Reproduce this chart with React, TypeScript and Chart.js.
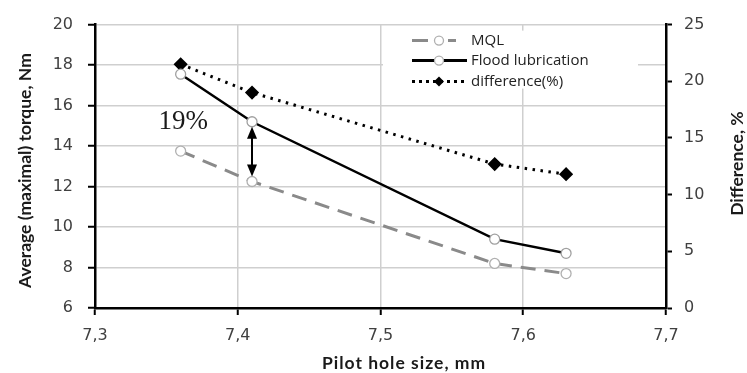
import React, { useEffect, useRef } from 'react';
import { Chart, registerables } from 'chart.js';

Chart.register(...registerables);

// ---- data ----
const pilotHoleSizes = [7.36, 7.41, 7.58, 7.63];
const mqlTorque = [13.75, 12.25, 8.2, 7.7];
const floodTorque = [17.55, 15.2, 9.4, 8.7];
const differencePct = [21.5, 19.0, 12.7, 11.8];
const seriesNames = ['MQL', 'Flood lubrication', 'difference(%)'];
const xTitle = 'Pilot hole size, mm';
const yTitle = 'Average (maximal) torque, Nm';
const y2Title = 'Difference, %';
const annotationText = '19%';
const annotationIndex = 1;

const TICK_FONT = { family: '"DejaVu Sans", Verdana, sans-serif', size: 16 };
const TICK_COLOR = '#404040';
const GRID_COLOR = '#cfcfcf';
const TITLE_FONT = 'bold 17.5px Lato, "Open Sans", sans-serif';

const toPts = (ys: number[]) => pilotHoleSizes.map((x, i) => ({ x, y: ys[i] }));

const overlayPlugin = {
  id: 'overlay',
  afterDatasetsDraw(chart: any) {
    const { ctx, chartArea, scales } = chart;
    const xs = scales.x;
    const ys = scales.y;
    ctx.save();

    // double arrow between the two series
    const px = xs.getPixelForValue(pilotHoleSizes[annotationIndex]);
    const yTop = ys.getPixelForValue(floodTorque[annotationIndex]) + 5;
    const yBot = ys.getPixelForValue(mqlTorque[annotationIndex]) - 5;
    const ah = 12;
    const aw = 5;
    ctx.strokeStyle = '#000';
    ctx.fillStyle = '#000';
    ctx.lineWidth = 2;
    ctx.beginPath();
    ctx.moveTo(px, yTop + ah - 1);
    ctx.lineTo(px, yBot - ah + 1);
    ctx.stroke();
    ctx.beginPath();
    ctx.moveTo(px, yTop);
    ctx.lineTo(px - aw, yTop + ah);
    ctx.lineTo(px + aw, yTop + ah);
    ctx.closePath();
    ctx.fill();
    ctx.beginPath();
    ctx.moveTo(px, yBot);
    ctx.lineTo(px - aw, yBot - ah);
    ctx.lineTo(px + aw, yBot - ah);
    ctx.closePath();
    ctx.fill();

    // annotation text
    ctx.font = '27px "Liberation Serif", "Times New Roman", serif';
    ctx.fillStyle = '#1a1a1a';
    ctx.textAlign = 'right';
    ctx.textBaseline = 'middle';
    ctx.fillText(annotationText, px - 44, ys.getPixelForValue(floodTorque[annotationIndex]));

    // legend
    const lx = chartArea.left + 288;
    const ly = chartArea.top + 6;
    ctx.fillStyle = '#fff';
    ctx.fillRect(lx, ly, 255, 58);
    const sx0 = lx + 29;
    const sx1 = lx + 84;
    const mx = lx + 56;
    const rows = [ly + 10, ly + 30, ly + 51];
    // MQL sample
    ctx.strokeStyle = '#8a8a8a';
    ctx.lineWidth = 3;
    ctx.beginPath();
    ctx.moveTo(sx0, rows[0]);
    ctx.lineTo(sx0 + 16, rows[0]);
    ctx.moveTo(mx + 9, rows[0]);
    ctx.lineTo(mx + 17, rows[0]);
    ctx.stroke();
    ctx.lineWidth = 1.3;
    ctx.strokeStyle = '#b0b0b0';
    ctx.fillStyle = '#fff';
    ctx.beginPath();
    ctx.arc(mx, rows[0], 4.5, 0, Math.PI * 2);
    ctx.fill();
    ctx.stroke();
    // Flood sample
    ctx.strokeStyle = '#000';
    ctx.lineWidth = 3;
    ctx.beginPath();
    ctx.moveTo(sx0, rows[1]);
    ctx.lineTo(sx1, rows[1]);
    ctx.stroke();
    ctx.lineWidth = 1.3;
    ctx.strokeStyle = '#b0b0b0';
    ctx.beginPath();
    ctx.arc(mx, rows[1], 4.5, 0, Math.PI * 2);
    ctx.fill();
    ctx.stroke();
    // difference sample
    ctx.strokeStyle = '#000';
    ctx.lineWidth = 3;
    ctx.setLineDash([3, 4]);
    ctx.beginPath();
    ctx.moveTo(sx0, rows[2]);
    ctx.lineTo(sx1, rows[2]);
    ctx.stroke();
    ctx.setLineDash([]);
    ctx.fillStyle = '#000';
    ctx.beginPath();
    ctx.moveTo(mx, rows[2] - 5);
    ctx.lineTo(mx + 5, rows[2]);
    ctx.lineTo(mx, rows[2] + 5);
    ctx.lineTo(mx - 5, rows[2]);
    ctx.closePath();
    ctx.fill();
    ctx.font = '15px "Open Sans", Lato, sans-serif';
    ctx.fillStyle = '#222';
    ctx.textAlign = 'left';
    ctx.textBaseline = 'middle';
    seriesNames.forEach((n, i) => ctx.fillText(n, sx1 + 4, rows[i]));

    // axis titles
    ctx.font = TITLE_FONT;
    ctx.fillStyle = '#1a1a1a';
    ctx.textAlign = 'center';
    ctx.textBaseline = 'middle';
    ctx.save();
    (ctx as any).letterSpacing = '1px';
    ctx.fillText(xTitle, chartArea.left + 309, chartArea.bottom + 55);
    ctx.restore();
    ctx.save();
    ctx.translate(25, chartArea.top + 146);
    ctx.rotate(-Math.PI / 2);
    ctx.fillText(yTitle, 0, 0);
    ctx.restore();
    ctx.save();
    ctx.translate(chartArea.right + 71, chartArea.top + 139);
    ctx.rotate(-Math.PI / 2);
    ctx.fillText(y2Title, 0, 0);
    ctx.restore();

    ctx.restore();
  },
};

export default function App() {
  const ref = useRef<HTMLCanvasElement | null>(null);
  useEffect(() => {
    if (!ref.current) return;
    const chart = new Chart(ref.current, {
      type: 'line',
      data: {
        datasets: [
          {
            label: seriesNames[0],
            data: toPts(mqlTorque),
            borderColor: '#8a8a8a',
            borderWidth: 3,
            borderDash: [15, 9],
            pointRadius: 5,
            pointBackgroundColor: '#fff',
            pointBorderColor: '#b0b0b0',
            pointBorderWidth: 1.3,
            yAxisID: 'y',
            tension: 0,
          },
          {
            label: seriesNames[1],
            data: toPts(floodTorque),
            borderColor: '#000',
            borderWidth: 2.5,
            pointRadius: 5,
            pointBackgroundColor: '#fff',
            pointBorderColor: '#a0a0a0',
            pointBorderWidth: 1.3,
            yAxisID: 'y',
            tension: 0,
          },
          {
            label: seriesNames[2],
            data: toPts(differencePct),
            borderColor: '#000',
            borderWidth: 3,
            borderDash: [2.5, 5.5],
            pointRadius: 5,
            pointStyle: 'rectRot',
            pointBackgroundColor: '#000',
            pointBorderColor: '#000',
            yAxisID: 'y1',
            tension: 0,
          },
        ],
      },
      options: {
        animation: false,
        responsive: true,
        maintainAspectRatio: false,
        layout: { padding: { top: 19, left: 0, right: 0, bottom: 0 } },
        plugins: { legend: { display: false }, tooltip: { enabled: false } },
        scales: {
          x: {
            type: 'linear',
            min: 7.3,
            max: 7.7,
            ticks: {
              stepSize: 0.1,
              color: TICK_COLOR,
              font: TICK_FONT,
              padding: 11,
              maxRotation: 0,
              callback: (v: any) => Number(v).toFixed(1).replace('.', ','),
            },
            grid: { color: GRID_COLOR, lineWidth: 1.5, tickColor: '#000', tickWidth: 2, tickLength: 7 },
            border: { color: '#000', width: 2.5 },
            afterFit: (s: any) => { s.height = 65; },
          },
          y: {
            position: 'left',
            min: 6,
            max: 20,
            ticks: { stepSize: 2, color: TICK_COLOR, font: TICK_FONT, padding: 15 },
            grid: { color: GRID_COLOR, lineWidth: 1.5, tickColor: '#000', tickWidth: 2, tickLength: 7 },
            border: { color: '#000', width: 2.5 },
            afterFit: (s: any) => { s.width = 95; },
          },
          y1: {
            position: 'right',
            min: 0,
            max: 25,
            ticks: { stepSize: 5, color: TICK_COLOR, font: TICK_FONT, padding: 12 },
            grid: { drawOnChartArea: false, tickColor: '#000', tickWidth: 2, tickLength: 6 },
            border: { color: '#000', width: 2.5 },
            afterFit: (s: any) => { s.width = 81; },
          },
        },
      },
      plugins: [overlayPlugin],
    });
    return () => chart.destroy();
  }, []);
  return (
    <div style={{ position: 'absolute', left: 0, top: 0, width: 747, height: 373, background: '#fff' }}>
      <canvas ref={ref} />
    </div>
  );
}
